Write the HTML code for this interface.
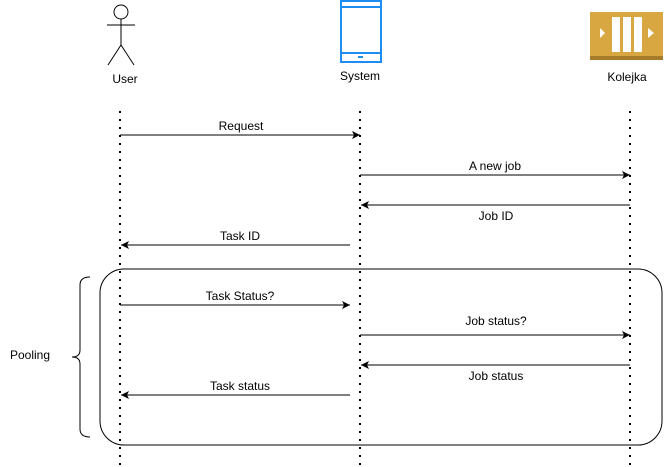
<!DOCTYPE html>
<html><head><meta charset="utf-8"><style>
html,body{margin:0;padding:0;background:#fff}
svg{display:block}
text{font-family:"Liberation Sans",sans-serif;font-size:12px;fill:#000}
</style></head><body>
<svg width="665" height="467" viewBox="0 0 665 467" xmlns="http://www.w3.org/2000/svg">
<defs>
<marker id="a" markerWidth="10" markerHeight="10" refX="8" refY="4" orient="auto" markerUnits="userSpaceOnUse">
<path d="M0,0 L8,4 L0,8 L2,4 Z" fill="#000"/>
</marker>
</defs>
<!-- actor -->
<g stroke="#000" fill="none" stroke-width="1">
<circle cx="121" cy="12" r="7"/>
<line x1="121" y1="19" x2="121" y2="45"/>
<line x1="107" y1="25" x2="135" y2="25"/>
<line x1="121" y1="45" x2="108" y2="65"/>
<line x1="121" y1="45" x2="134" y2="65"/>
</g>
<text x="125" y="83" text-anchor="middle">User</text>
<!-- phone -->
<g stroke="#1e8cf0" fill="none" stroke-width="2">
<rect x="341" y="1" width="40" height="61"/>
<line x1="341" y1="7" x2="381" y2="7"/>
<line x1="341" y1="53" x2="381" y2="53"/>
</g>
<rect x="358" y="56" width="5" height="2" fill="#1e8cf0"/>
<text x="360" y="80" text-anchor="middle">System</text>
<!-- queue -->
<rect x="590" y="12" width="73" height="48" fill="#d9a741"/>
<rect x="590" y="56" width="73" height="4" fill="#a57a2a"/>
<rect x="612" y="17" width="8" height="35" fill="#fff"/>
<rect x="623" y="17" width="8" height="35" fill="#fff"/>
<rect x="634" y="17" width="8" height="35" fill="#fff"/>
<path d="M600,28 L605,33 L600,38 Z" fill="#fff"/>
<path d="M648,28 L654,33 L648,38 Z" fill="#fff"/>
<text x="627" y="81" text-anchor="middle">Kolejka</text>
<!-- lifelines -->
<g stroke="#000" stroke-width="2" stroke-dasharray="2,6">
<line x1="120" y1="111" x2="120" y2="467"/>
<line x1="360" y1="111" x2="360" y2="467"/>
<line x1="630" y1="111" x2="630" y2="467"/>
</g>
<!-- loop box -->
<rect x="100" y="269" width="562" height="176" rx="24" ry="24" fill="none" stroke="#000"/>
<path d="M90,277 Q80,277 80,285 L80,350 Q80,357 72,357 Q80,357 80,364 L80,429 Q80,437 90,437" fill="none" stroke="#000"/>
<text x="10" y="359">Pooling</text>
<!-- messages -->
<g stroke="#000" stroke-width="1" marker-end="url(#a)">
<line x1="120" y1="135" x2="360" y2="135"/>
<line x1="360" y1="175" x2="630" y2="175"/>
<line x1="630" y1="205" x2="361" y2="205"/>
<line x1="350" y1="245" x2="121" y2="245"/>
<line x1="120" y1="305" x2="350" y2="305"/>
<line x1="360" y1="335" x2="630" y2="335"/>
<line x1="630" y1="365" x2="361" y2="365"/>
<line x1="350" y1="395" x2="121" y2="395"/>
</g>
<text x="241" y="130" text-anchor="middle">Request</text>
<text x="495" y="170" text-anchor="middle">A new job</text>
<text x="496" y="220" text-anchor="middle">Job ID</text>
<text x="240" y="240" text-anchor="middle">Task ID</text>
<text x="240" y="300" text-anchor="middle">Task Status?</text>
<text x="496" y="325" text-anchor="middle">Job status?</text>
<text x="496" y="380" text-anchor="middle">Job status</text>
<text x="240" y="390" text-anchor="middle">Task status</text>
</svg>
</body></html>
